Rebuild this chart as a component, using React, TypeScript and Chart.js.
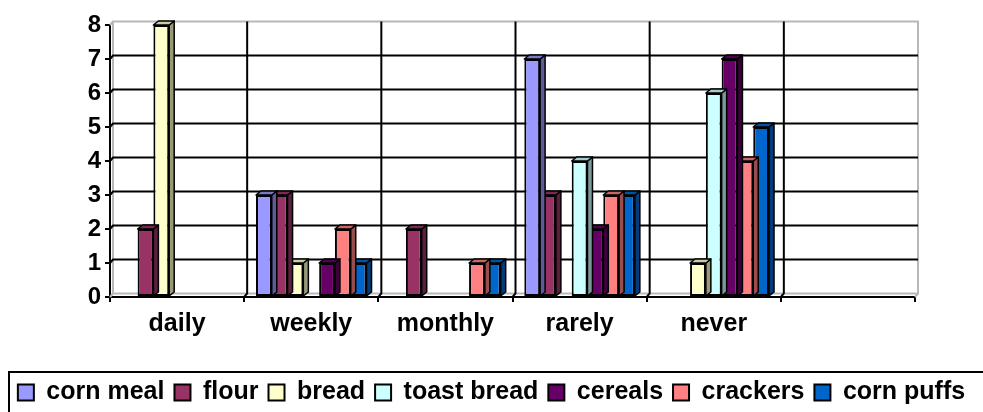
import { useEffect, useRef } from 'react';
import { Chart, registerables } from 'chart.js';

Chart.register(...registerables);

// Frequency categories (the last one is an empty slot on the axis)
const categories = ['daily', 'weekly', 'monthly', 'rarely', 'never', ''];

// Number of answers per product
const cornMeal = [0, 3, 0, 7, 0, 0];
const flour = [2, 3, 2, 3, 0, 0];
const bread = [8, 1, 0, 0, 1, 0];
const toastBread = [0, 0, 0, 4, 6, 0];
const cereals = [0, 1, 0, 2, 7, 0];
const crackers = [0, 2, 1, 3, 4, 0];
const cornPuffs = [0, 1, 1, 3, 5, 0];

const seriesNames = ['corn meal', 'flour', 'bread', 'toast bread', 'cereals', 'crackers', 'corn puffs'];
const seriesValues = [cornMeal, flour, bread, toastBread, cereals, crackers, cornPuffs];
const seriesColors = ['#9999FF', '#993366', '#FFFFCC', '#CCFFFF', '#660066', '#FF8080', '#0066CC'];

const yMin = 0;
const yMax = 8;

const FONT_FAMILY = '"Liberation Sans", Arial, sans-serif';

// depth of the columns and of the back wall
const BAR_DX = 5;
const BAR_DY = 4;
const WALL_DX = 3;
const WALL_DY = 3.5;

function shade(hex: string, f: number): string {
  const n = parseInt(hex.slice(1), 16);
  const r = Math.round(((n >> 16) & 255) * f);
  const g = Math.round(((n >> 8) & 255) * f);
  const b = Math.round((n & 255) * f);
  return `rgb(${r},${g},${b})`;
}

// back wall with its grid, drawn behind the columns
const wallPlugin = {
  id: 'wall3d',
  beforeDatasetsDraw(chart: any) {
    const { ctx, chartArea: a, scales } = chart;
    const xs = scales.x;
    const ys = scales.y;
    ctx.save();
    ctx.lineCap = 'butt';

    // wall and floor outline
    ctx.strokeStyle = '#b8b8b8';
    ctx.lineWidth = 2;
    ctx.strokeRect(a.left + WALL_DX, a.top - WALL_DY, a.right - a.left, a.bottom - a.top);
    ctx.beginPath();
    ctx.moveTo(a.left, a.top);
    ctx.lineTo(a.left + WALL_DX, a.top - WALL_DY);
    ctx.moveTo(a.left, a.bottom);
    ctx.lineTo(a.left + WALL_DX, a.bottom - WALL_DY);
    ctx.moveTo(a.right, a.bottom);
    ctx.lineTo(a.right + WALL_DX, a.bottom - WALL_DY);
    ctx.stroke();

    // horizontal grid lines
    ctx.strokeStyle = '#000';
    ctx.lineWidth = 2;
    for (let v = yMin + 1; v < yMax; v++) {
      const yf = ys.getPixelForValue(v);
      ctx.beginPath();
      ctx.moveTo(a.left, yf);
      ctx.lineTo(a.left + WALL_DX, yf - WALL_DY);
      ctx.lineTo(a.right + WALL_DX, yf - WALL_DY);
      ctx.stroke();
    }

    // vertical grid lines between categories
    for (let i = 1; i < categories.length; i++) {
      const xf = (xs.getPixelForValue(i - 1) + xs.getPixelForValue(i)) / 2;
      ctx.beginPath();
      ctx.moveTo(xf + WALL_DX, a.top - WALL_DY);
      ctx.lineTo(xf + WALL_DX, a.bottom - WALL_DY);
      ctx.lineTo(xf, a.bottom);
      ctx.stroke();
    }
    ctx.restore();
  },
};

// side and top faces of each column, drawn before its front face
const barDepthPlugin = {
  id: 'barDepth',
  beforeDatasetDraw(chart: any, args: any) {
    const { ctx } = chart;
    const meta = chart.getDatasetMeta(args.index);
    const ds = chart.data.datasets[args.index];
    const color = ds.backgroundColor as string;
    ctx.save();
    ctx.lineWidth = 1.5;
    ctx.strokeStyle = '#000';
    ctx.lineJoin = 'round';
    meta.data.forEach((bar: any, i: number) => {
      const v = ds.data[i];
      if (!v) return;
      const { x, y, base, width } = bar.getProps(['x', 'y', 'base', 'width'], true);
      const l = x - width / 2;
      const r = x + width / 2;
      // side face
      ctx.beginPath();
      ctx.moveTo(r, y);
      ctx.lineTo(r + BAR_DX, y - BAR_DY);
      ctx.lineTo(r + BAR_DX, base - BAR_DY);
      ctx.lineTo(r, base);
      ctx.closePath();
      ctx.fillStyle = shade(color, 0.6);
      ctx.fill();
      ctx.stroke();
      // top face
      ctx.beginPath();
      ctx.moveTo(l, y);
      ctx.lineTo(l + BAR_DX, y - BAR_DY);
      ctx.lineTo(r + BAR_DX, y - BAR_DY);
      ctx.lineTo(r, y);
      ctx.closePath();
      ctx.fillStyle = shade(color, 0.8);
      ctx.fill();
      ctx.stroke();
    });
    ctx.restore();
  },
};

// frame around the legend
const legendFramePlugin = {
  id: 'legendFrame',
  afterDraw(chart: any) {
    const { ctx, legend } = chart;
    if (!legend) return;
    ctx.save();
    ctx.strokeStyle = '#000';
    ctx.lineWidth = 2;
    ctx.strokeRect(9, legend.top + 2, chart.width + 20, 80);
    ctx.restore();
  },
};

export default function App() {
  const canvasRef = useRef<HTMLCanvasElement | null>(null);

  useEffect(() => {
    if (!canvasRef.current) return;
    const font = { family: FONT_FAMILY, weight: 'bold' as const, size: 25 };
    const chart = new Chart(canvasRef.current, {
      type: 'bar',
      data: {
        labels: categories,
        datasets: seriesNames.map((name, i) => ({
          label: name,
          data: seriesValues[i],
          backgroundColor: seriesColors[i],
          borderColor: '#000',
          borderWidth: 2,
          borderSkipped: false,
          categoryPercentage: 0.824,
          barPercentage: 1,
        })),
      },
      options: {
        animation: false,
        responsive: true,
        maintainAspectRatio: false,
        layout: { padding: { left: 0, right: 0, top: 25, bottom: 0 } },
        plugins: {
          legend: {
            position: 'bottom',
            labels: {
              boxWidth: 16,
              boxHeight: 16,
              padding: 10,
              color: '#000',
              font,
            },
          },
          tooltip: { enabled: false },
        },
        scales: {
          x: {
            grid: {
              offset: true,
              drawOnChartArea: false,
              drawTicks: true,
              tickLength: 5,
              color: '#000',
              lineWidth: 2,
            },
            border: { display: true, color: '#000', width: 2 },
            ticks: { color: '#000', font, padding: 7, maxRotation: 0, autoSkip: false },
            afterFit: (s: any) => {
              s.height = 73;
            },
          },
          y: {
            min: yMin,
            max: yMax,
            grid: {
              drawOnChartArea: false,
              drawTicks: true,
              tickLength: 5,
              color: '#000',
              lineWidth: 2,
            },
            border: { display: true, color: '#000', width: 2 },
            ticks: { stepSize: 1, color: '#000', font: { ...font, size: 24 }, padding: 4 },
            afterFit: (s: any) => {
              s.width = 110;
            },
          },
          // empty margin on the right of the plot
          right: {
            position: 'right',
            display: true,
            grid: { display: false },
            border: { display: false },
            ticks: { display: false },
            afterFit: (s: any) => {
              s.width = 68;
            },
          },
        },
      },
      plugins: [wallPlugin, barDepthPlugin, legendFramePlugin],
    });
    return () => chart.destroy();
  }, []);

  return (
    <div style={{ position: 'fixed', left: 0, top: 0, width: 983, height: 415, background: '#fff' }}>
      <canvas ref={canvasRef} />
    </div>
  );
}
